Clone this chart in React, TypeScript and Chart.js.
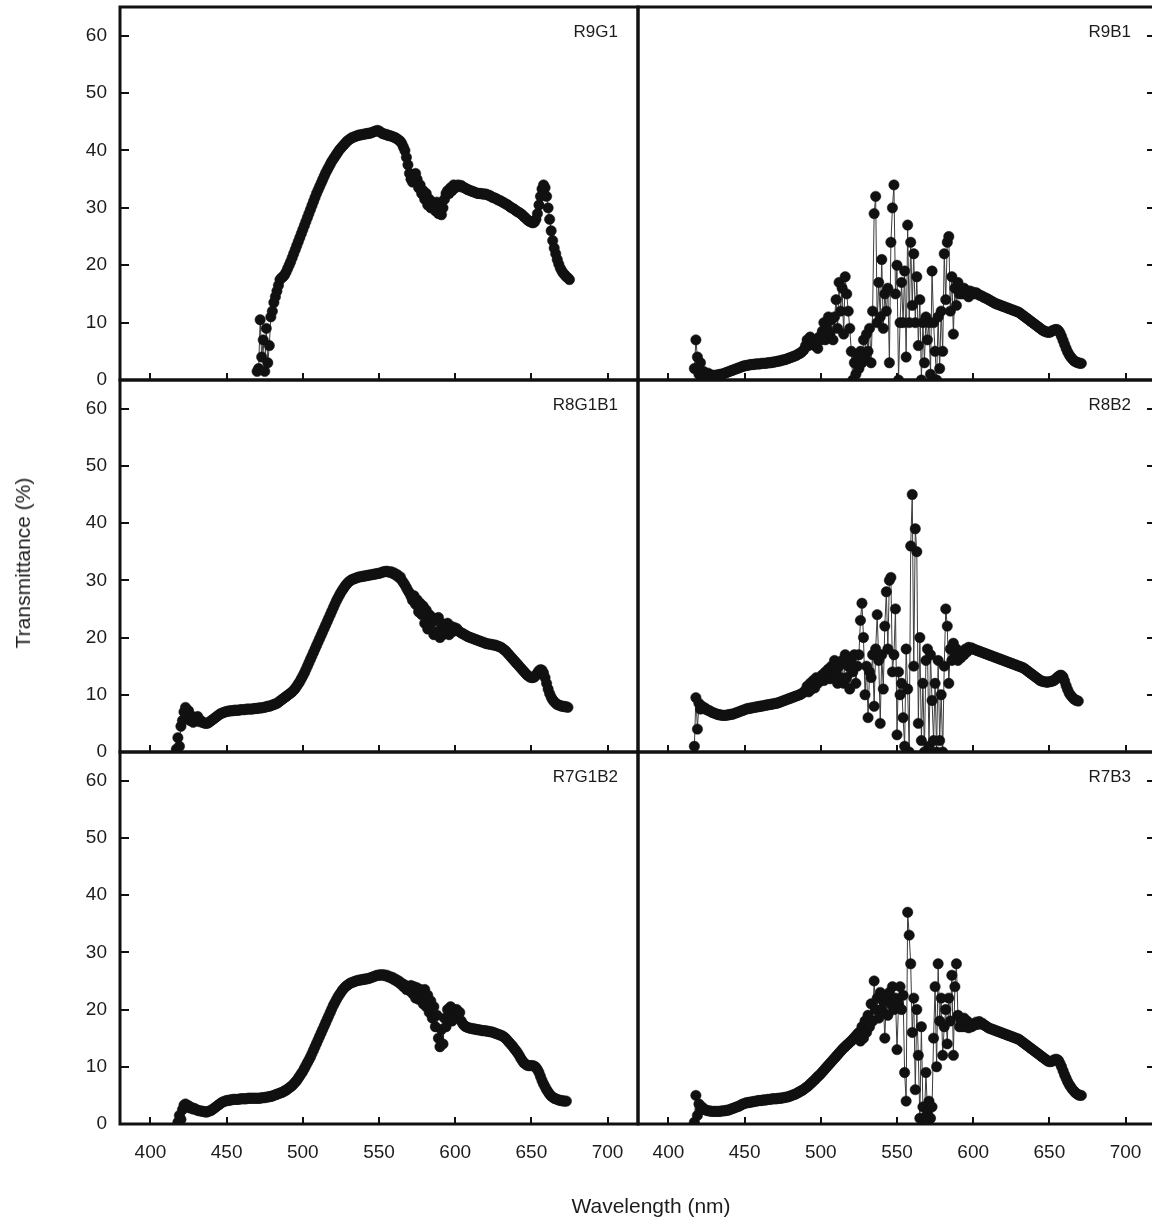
import React, { useEffect, useRef } from 'react';
import { Chart, registerables } from 'chart.js';

Chart.register(...registerables);

// ---------- data ----------
const wavelengthTicks = [400, 450, 500, 550, 600, 650, 700];
const transmittanceTicks = [0, 10, 20, 30, 40, 50, 60];
const xTitle = 'Wavelength (nm)';
const yTitle = 'Transmittance (%)';

// Sampled every 1 nm starting at the given wavelength
const r9g1Start = 470;
const r9g1Values = [
  1.5, 2, 10.5, 4, 7, 1.5, 9, 3, 6, 11,
  12, 13.5, 14.5, 15.5, 16.5, 17.5, 17.8, 18, 18.3, 18.8,
  19.4, 20, 20.6, 21.3, 22, 22.7, 23.4, 24.1, 24.8, 25.5,
  26.2, 26.9, 27.6, 28.3, 29, 29.7, 30.4, 31.1, 31.8, 32.5,
  33.1, 33.7, 34.3, 34.9, 35.5, 36.1, 36.6, 37.1, 37.6, 38.1,
  38.5, 38.9, 39.3, 39.7, 40.1, 40.4, 40.7, 41, 41.3, 41.6,
  41.8, 42, 42.2, 42.3, 42.4, 42.5, 42.6, 42.7, 42.7, 42.8,
  42.8, 42.9, 42.9, 43, 43, 43.1, 43.2, 43.3, 43.4, 43.5,
  43.4, 43.2, 43, 42.9, 42.8, 42.8, 42.6, 42.6, 42.5, 42.4,
  42.3, 42.2, 42, 41.8, 41.6, 41.2, 40.6, 40, 38.8, 37.5,
  36, 35, 34.5, 35.5, 36, 35, 33.5, 34, 32.5, 33,
  31.5, 32.5, 30.5, 31.5, 30, 31, 30.5, 29.5, 31, 29,
  30.5, 28.8, 30, 31.5, 32.5, 33, 32.5, 33.5, 33, 34,
  33.5, 33.8, 34, 33.7, 33.9, 33.6, 33.5, 33.4, 33.2, 33.1,
  33, 32.9, 32.8, 32.7, 32.6, 32.5, 32.5, 32.5, 32.4, 32.4,
  32.4, 32.3, 32.2, 32.1, 31.9, 31.8, 31.7, 31.6, 31.4, 31.3,
  31.2, 31, 30.9, 30.7, 30.6, 30.4, 30.2, 30, 29.9, 29.7,
  29.5, 29.3, 29.2, 29, 28.8, 28.5, 28.3, 28, 27.8, 27.6,
  27.5, 27.4, 27.5, 28, 29, 30.5, 32, 33.3, 34, 33.5,
  32, 30, 28, 26, 24.3, 23, 22, 21, 20.2, 19.5,
  19, 18.6, 18.3, 18, 17.8, 17.5,
];

const r8g1b1Start = 417;
const r8g1b1Values = [
  0.5, 2.5, 1,
  4.5, 5.5, 7, 7.8, 6.5, 7.2, 5.5, 6.3, 5.2, 6,
  5.5, 6.2, 5.3, 5.5, 5.2, 5.1, 5, 5, 5.1, 5.3,
  5.5, 5.7, 5.9, 6.1, 6.3, 6.5, 6.7, 6.8, 6.9, 7,
  7.1, 7.1, 7.2, 7.2, 7.2, 7.3, 7.3, 7.3, 7.3, 7.4,
  7.4, 7.4, 7.4, 7.5, 7.5, 7.5, 7.5, 7.5, 7.6, 7.6,
  7.6, 7.7, 7.7, 7.7, 7.8, 7.8, 7.9, 8, 8, 8.1,
  8.2, 8.3, 8.4, 8.5, 8.7, 8.9, 9.1, 9.3, 9.5, 9.7,
  9.9, 10.1, 10.3, 10.5, 10.8, 11.1, 11.5, 11.9, 12.3, 12.8,
  13.3, 13.8, 14.4, 15, 15.6, 16.2, 16.8, 17.4, 18, 18.6,
  19.2, 19.8, 20.4, 21, 21.6, 22.2, 22.8, 23.4, 24, 24.6,
  25.2, 25.8, 26.4, 26.9, 27.4, 27.9, 28.3, 28.7, 29.1, 29.4,
  29.7, 29.9, 30.1, 30.2, 30.3, 30.4, 30.5, 30.6, 30.6, 30.7,
  30.7, 30.8, 30.8, 30.9, 30.9, 31, 31, 31.1, 31.1, 31.2,
  31.2, 31.3, 31.4, 31.5, 31.5, 31.6, 31.5, 31.4, 31.5, 31.2,
  31.3, 30.9, 31, 30.5, 30.6, 30, 29.6, 29.2, 28.7, 28.2,
  27.8, 27.2, 26.5, 27.3, 25.8, 26.6, 24.5, 26, 24, 25.5,
  22.5, 24.8, 21.5, 24, 22.5, 23.5, 20.5, 23, 21, 23.5,
  20, 22.5, 20.5, 22, 21, 22.5, 20.5, 22, 21, 21.8,
  21.2, 21.6, 21.2, 21, 20.8, 20.7, 20.5, 20.4, 20.2, 20.1,
  20, 19.9, 19.8, 19.7, 19.6, 19.5, 19.4, 19.3, 19.2, 19.1,
  19, 18.9, 18.9, 18.8, 18.8, 18.7, 18.7, 18.6, 18.5, 18.4,
  18.3, 18.1, 17.9, 17.7, 17.4, 17.1, 16.8, 16.5, 16.2, 15.9,
  15.6, 15.3, 15, 14.7, 14.4, 14.1, 13.8, 13.5, 13.3, 13.1,
  13, 13, 13.1, 13.4, 13.8, 14.2, 14.4, 14.3, 13.8, 13,
  12, 11, 10.2, 9.6, 9.1, 8.8, 8.5, 8.3, 8.2, 8.1,
  8, 8, 7.9, 7.9, 7.8,
];

const r7g1b2Start = 418;
const r7g1b2Values = [
  0.3, 1.5,
  0.8, 2.5, 3.3, 3.5, 3, 3.2, 2.8, 2.9, 2.6, 2.7,
  2.5, 2.4, 2.3, 2.3, 2.2, 2.2, 2.1, 2.1, 2.2, 2.3,
  2.4, 2.6, 2.8, 3, 3.2, 3.4, 3.6, 3.8, 3.9, 4,
  4.1, 4.1, 4.2, 4.2, 4.3, 4.3, 4.3, 4.3, 4.3, 4.4,
  4.4, 4.4, 4.4, 4.4, 4.5, 4.5, 4.5, 4.5, 4.5, 4.5,
  4.5, 4.5, 4.5, 4.6, 4.6, 4.6, 4.7, 4.7, 4.8, 4.8,
  4.9, 5, 5.1, 5.2, 5.3, 5.4, 5.5, 5.6, 5.8, 5.9,
  6.1, 6.3, 6.5, 6.7, 7, 7.3, 7.6, 8, 8.4, 8.8,
  9.2, 9.7, 10.2, 10.7, 11.2, 11.7, 12.3, 12.9, 13.5, 14.1,
  14.7, 15.3, 15.9, 16.5, 17.1, 17.7, 18.3, 18.9, 19.5, 20.1,
  20.7, 21.2, 21.7, 22.2, 22.6, 23, 23.4, 23.7, 24, 24.2,
  24.4, 24.6, 24.7, 24.8, 24.9, 25, 25.1, 25.1, 25.2, 25.2,
  25.3, 25.3, 25.4, 25.4, 25.5, 25.6, 25.7, 25.8, 25.9, 26,
  26, 26.1, 26, 26.1, 25.9, 26, 25.7, 25.8, 25.5, 25.6,
  25.2, 25.3, 24.9, 25, 24.5, 24.6, 24, 24.3, 23.5, 24,
  23.3, 24.2, 22.8, 24, 22, 23.8, 21.8, 23.5, 22.5, 21,
  23.5, 20.5, 22.5, 19.5, 21.5, 18.5, 20.5, 17, 19, 15,
  13.5, 16.5, 14, 18.5, 17, 20, 18.5, 20.5, 18, 20,
  19, 20, 18.8, 19.5, 18, 17.5, 17.2, 17, 16.9, 16.8,
  16.7, 16.7, 16.6, 16.6, 16.5, 16.5, 16.4, 16.4, 16.3, 16.3,
  16.3, 16.2, 16.2, 16.1, 16.1, 16, 15.9, 15.8, 15.7, 15.6,
  15.5, 15.4, 15.2, 15, 14.7, 14.4, 14.1, 13.8, 13.5, 13.1,
  12.8, 12.4, 12, 11.5, 11.1, 10.7, 10.5, 10.3, 10.2, 10.2,
  10.2, 10.2, 10.1, 9.9, 9.5, 9, 8.3, 7.6, 7, 6.5,
  6, 5.6, 5.2, 4.9, 4.7, 4.5, 4.4, 4.3, 4.2, 4.1,
  4.1, 4, 4, 4,
];

const r9b1Start = 417;
const r9b1Values = [
  2, 7, 4,
  1, 3, 0.5, 1.5, 1, 0.8, 1.2, 0.8, 0.9, 0.8,
  0.8, 0.8, 0.9, 0.9, 1, 1, 1.1, 1.2, 1.3, 1.4,
  1.5, 1.6, 1.7, 1.8, 1.9, 2, 2.1, 2.2, 2.3, 2.4,
  2.5, 2.5, 2.6, 2.6, 2.7, 2.7, 2.7, 2.8, 2.8, 2.8,
  2.8, 2.9, 2.9, 2.9, 2.9, 3, 3, 3, 3.1, 3.1,
  3.2, 3.2, 3.3, 3.3, 3.4, 3.5, 3.5, 3.6, 3.7, 3.8,
  3.9, 4, 4.1, 4.2, 4.3, 4.5, 4.6, 4.8, 5, 5.3,
  6, 7, 6, 7.5, 6.5, 7, 6, 6.8, 5.5, 7.5,
  7, 8.5, 10, 7, 9, 11, 8, 10.5, 7, 11,
  14, 9, 17, 12, 16, 8, 18, 15, 12, 9,
  5, 0, 3, 1, 4, 2, 5, 3, 7, 4,
  8, 5, 9, 3, 12, 29, 32, 10, 17, 11,
  21, 9, 15, 12, 16, 3, 24, 30, 34, 15,
  20, 0, 10, 17, 10, 19, 4, 27, 10, 24,
  13, 22, 10, 18, 6, 14, 0, 10, 3, 11,
  7, 10, 1, 19, 10, 5, 0, 11, 2, 12,
  5, 22, 14, 24, 25, 12, 18, 8, 16, 13,
  17, 15, 15.5, 15, 16, 15, 15.5, 14.5, 15.5, 15,
  15.3, 15, 15.2, 15, 14.8, 14.7, 14.6, 14.4, 14.3, 14.2,
  14, 13.9, 13.7, 13.6, 13.4, 13.3, 13.2, 13.1, 13, 12.9,
  12.8, 12.7, 12.6, 12.5, 12.4, 12.3, 12.2, 12.1, 12, 11.9,
  11.8, 11.6, 11.4, 11.2, 11, 10.8, 10.6, 10.4, 10.2, 10,
  9.8, 9.6, 9.4, 9.2, 9, 8.8, 8.6, 8.5, 8.4, 8.3,
  8.3, 8.4, 8.6, 8.7, 8.8, 8.8, 8.6, 8.2, 7.6, 6.9,
  6.2, 5.5, 4.9, 4.4, 4, 3.7, 3.4, 3.2, 3.1, 3,
  2.9, 2.9,
];

const r8b2Start = 417;
const r8b2Values = [
  1, 9.5, 4,
  8.5, 7.5, 8, 7.6, 7.7, 7.4, 7.3, 7.2, 7, 6.9,
  6.8, 6.7, 6.6, 6.5, 6.5, 6.4, 6.4, 6.4, 6.4, 6.5,
  6.5, 6.6, 6.6, 6.7, 6.8, 6.9, 7, 7.1, 7.2, 7.3,
  7.4, 7.5, 7.6, 7.6, 7.7, 7.7, 7.8, 7.8, 7.9, 7.9,
  8, 8, 8.1, 8.1, 8.2, 8.2, 8.3, 8.3, 8.4, 8.4,
  8.5, 8.5, 8.6, 8.7, 8.8, 8.9, 9, 9.1, 9.2, 9.3,
  9.4, 9.5, 9.6, 9.7, 9.8, 9.9, 10, 10.1, 10.3, 10.5,
  10.8, 11.5, 10.5, 12, 11, 12.5, 11.2, 13, 12, 12.8,
  12.5, 13.5, 12.5, 14, 13, 14.5, 12.8, 15, 13.5, 16,
  14, 12, 15, 13, 16, 12, 17, 13, 15, 11,
  16, 14, 17, 12, 15, 17, 23, 26, 20, 10,
  15, 6, 14, 13, 17, 8, 18, 24, 16, 5,
  17, 11, 22, 28, 18, 30, 30.5, 14, 17, 25,
  3, 14, 10, 12, 6, 1, 18, 11, 0, 36,
  45, 15, 39, 35, 5, 20, 2, 12, 0, 16,
  18, 1, 17, 9, 2, 12, 0, 16, 2, 10,
  0, 15, 25, 22, 12, 18, 16, 19, 17, 18,
  16, 17, 16.5, 17.5, 17, 18, 17.5, 18.3, 18, 18.2,
  18, 17.9, 17.8, 17.7, 17.6, 17.5, 17.4, 17.3, 17.2, 17.1,
  17, 16.9, 16.8, 16.7, 16.6, 16.5, 16.4, 16.3, 16.2, 16.1,
  16, 15.9, 15.8, 15.7, 15.6, 15.5, 15.4, 15.3, 15.2, 15.1,
  15, 14.9, 14.8, 14.7, 14.5, 14.3, 14.1, 13.9, 13.7, 13.5,
  13.3, 13.1, 12.9, 12.7, 12.5, 12.4, 12.3, 12.3, 12.2, 12.2,
  12.3, 12.3, 12.4, 12.5, 12.7, 13, 13.2, 13.4, 13.4, 13.1,
  12.4, 11.6, 10.9, 10.3, 9.9, 9.6, 9.3, 9.1, 9, 8.9,
];

const r7b3Start = 417;
const r7b3Values = [
  0.3, 5, 1.5,
  3.5, 2.5, 3, 2.6, 2.5, 2.4, 2.3, 2.3, 2.2, 2.2,
  2.2, 2.2, 2.2, 2.2, 2.2, 2.3, 2.3, 2.3, 2.4, 2.4,
  2.5, 2.6, 2.7, 2.8, 2.9, 3, 3.1, 3.2, 3.4, 3.5,
  3.6, 3.7, 3.7, 3.8, 3.8, 3.9, 3.9, 4, 4, 4.1,
  4.1, 4.1, 4.2, 4.2, 4.2, 4.3, 4.3, 4.3, 4.4, 4.4,
  4.4, 4.4, 4.5, 4.5, 4.5, 4.6, 4.6, 4.7, 4.7, 4.8,
  4.9, 5, 5.1, 5.2, 5.3, 5.5, 5.6, 5.8, 5.9, 6.1,
  6.3, 6.5, 6.7, 7, 7.2, 7.5, 7.7, 8, 8.3, 8.5,
  8.8, 9.1, 9.4, 9.7, 10, 10.3, 10.6, 10.9, 11.2, 11.5,
  11.8, 12.1, 12.4, 12.7, 13, 13.3, 13.5, 13.8, 14, 14.3,
  14.5, 14.8, 15.1, 15.4, 15.7, 16, 14.5, 17, 15, 18,
  16, 19, 17, 21, 18, 25, 20, 22, 18.5, 23,
  20, 21.5, 15, 22, 19, 23, 21, 24, 20, 22,
  13, 21, 24, 20, 22.5, 9, 4, 37, 33, 28,
  16, 22, 6, 20, 12, 1, 17, 3, 1, 9,
  2, 4, 1, 3, 15, 24, 10, 28, 18, 22,
  12, 17, 20, 14, 22, 18, 26, 12, 24, 28,
  19, 17, 18, 17, 18.5, 17, 18, 16.8, 17.5, 17,
  17.5, 17.3, 17.8, 17.4, 17.9, 17.5, 17.6, 17.3, 17.2, 17,
  16.8, 16.7, 16.6, 16.5, 16.4, 16.3, 16.2, 16.1, 16, 15.9,
  15.8, 15.7, 15.6, 15.5, 15.4, 15.3, 15.2, 15.1, 15, 14.9,
  14.8, 14.6, 14.4, 14.2, 14, 13.8, 13.6, 13.4, 13.2, 13,
  12.8, 12.6, 12.4, 12.2, 12, 11.8, 11.6, 11.4, 11.2, 11,
  10.9, 10.9, 11, 11.2, 11.3, 11.3, 11.1, 10.6, 10, 9.3,
  8.6, 8, 7.4, 6.9, 6.5, 6.1, 5.8, 5.5, 5.3, 5.1,
  5, 5,
];

const panelNames = ['R9G1', 'R9B1', 'R8G1B1', 'R8B2', 'R7G1B2', 'R7B3'];
const panelStarts = [r9g1Start, r9b1Start, r8g1b1Start, r8b2Start, r7g1b2Start, r7b3Start];
const panelValues = [r9g1Values, r9b1Values, r8g1b1Values, r8b2Values, r7g1b2Values, r7b3Values];

// ---------- layout / style ----------
const COLS = [{ left: 120, width: 518 }, { left: 638, width: 518 }];
const ROWS = [{ top: 7, height: 373 }, { top: 380, height: 372 }, { top: 752, height: 372 }];
const MARGIN = { l: 130, t: 40, r: 40, b: 100 };
const Y_AXIS_W = 120;
const X_AXIS_H = 60;
const FONT = 'Liberation Sans, Arial, Helvetica, sans-serif';
const INK = '#111111';
const TEXT = '#1c1c1c';

const framePlugin = {
  id: 'panelFrame',
  afterDraw(chart: any, _args: any, opts: any) {
    const { ctx, chartArea } = chart;
    const { left, right, top, bottom } = chartArea;
    const xs = chart.scales.x;
    const ys = chart.scales.y;
    ctx.save();
    ctx.strokeStyle = INK;
    ctx.lineCap = 'butt';
    ctx.lineWidth = 2;
    xs.ticks.forEach((t: any) => {
      const px = Math.round(xs.getPixelForValue(t.value));
      ctx.beginPath();
      ctx.moveTo(px, bottom);
      ctx.lineTo(px, bottom - 7);
      ctx.stroke();
    });
    ys.ticks.forEach((t: any) => {
      const py = Math.round(ys.getPixelForValue(t.value));
      if (t.value === 0) return;
      ctx.beginPath();
      if (opts.side === 'left') {
        ctx.moveTo(left, py);
        ctx.lineTo(left + 9, py);
      } else {
        ctx.moveTo(right, py);
        ctx.lineTo(right - 9, py);
      }
      ctx.stroke();
    });
    ctx.lineWidth = 3;
    ctx.strokeRect(left, top, right - left, bottom - top);
    ctx.restore();
  },
};

type PanelProps = { index: number };

function Panel({ index }: PanelProps) {
  const ref = useRef<HTMLCanvasElement | null>(null);
  const row = Math.floor(index / 2);
  const col = index % 2;
  const isLeft = col === 0;
  const isBottom = row === 2;
  const cw = COLS[col].width + MARGIN.l + MARGIN.r;
  const ch = ROWS[row].height + MARGIN.t + MARGIN.b;

  useEffect(() => {
    if (!ref.current) return;
    const start = panelStarts[index];
    const points = panelValues[index].map((v, i) => ({ x: start + i, y: v }));
    const chart = new Chart(ref.current, {
      type: 'line',
      data: {
        datasets: [
          {
            data: points,
            borderColor: '#3c3c3c',
            borderWidth: 1,
            pointRadius: 5.2,
            pointBackgroundColor: INK,
            pointBorderColor: INK,
            pointBorderWidth: 0.5,
            tension: 0,
            fill: false,
          },
        ],
      },
      options: {
        responsive: false,
        animation: false,
        events: [],
        layout: {
          padding: {
            left: isLeft ? MARGIN.l - Y_AXIS_W : MARGIN.l,
            top: MARGIN.t,
            right: MARGIN.r,
            bottom: isBottom ? MARGIN.b - X_AXIS_H : MARGIN.b,
          },
        },
        plugins: {
          legend: { display: false },
          tooltip: { enabled: false },
          title: { display: false },
          panelFrame: { side: isLeft ? 'left' : 'right' },
        } as any,
        scales: {
          x: {
            type: 'linear',
            min: 380,
            max: 720,
            display: isBottom,
            grid: { display: false, drawTicks: false },
            border: { display: false },
            afterBuildTicks: (s: any) => {
              s.ticks = wavelengthTicks.map((v) => ({ value: v }));
            },
            afterFit: (s: any) => {
              if (isBottom) s.height = X_AXIS_H;
            },
            ticks: {
              padding: 17,
              autoSkip: false,
              maxRotation: 0,
              color: TEXT,
              font: { family: FONT, size: 19 },
            },
          },
          y: {
            type: 'linear',
            min: 0,
            max: 65,
            display: isLeft,
            grid: { display: false, drawTicks: false },
            border: { display: false },
            afterBuildTicks: (s: any) => {
              s.ticks = transmittanceTicks.map((v) => ({ value: v }));
            },
            afterFit: (s: any) => {
              if (isLeft) s.width = Y_AXIS_W;
            },
            ticks: {
              padding: 13,
              autoSkip: false,
              color: TEXT,
              font: { family: FONT, size: 19 },
            },
          },
        },
      } as any,
      plugins: [framePlugin],
    });
    return () => chart.destroy();
  }, [index]);

  return (
    <canvas
      ref={ref}
      width={cw}
      height={ch}
      style={{
        position: 'absolute',
        left: COLS[col].left - MARGIN.l,
        top: ROWS[row].top - MARGIN.t,
        width: cw,
        height: ch,
      }}
    />
  );
}

export default function App() {
  return (
    <div
      style={{
        position: 'absolute',
        left: 0,
        top: 0,
        width: 1152,
        height: 1221,
        overflow: 'hidden',
        background: '#ffffff',
        fontFamily: FONT,
      }}
    >
      {panelNames.map((_, i) => (
        <Panel key={i} index={i} />
      ))}
      {panelNames.map((name, i) => {
        const row = Math.floor(i / 2);
        const col = i % 2;
        const inset = col === 0 ? 20 : 25;
        const rightEdge = COLS[col].left + COLS[col].width - inset;
        return (
          <div
            key={'lbl' + i}
            style={{
              position: 'absolute',
              right: 1152 - rightEdge,
              top: ROWS[row].top + 16,
              fontSize: 17,
              lineHeight: '17px',
              color: TEXT,
              whiteSpace: 'nowrap',
              zIndex: 2,
            }}
          >
            {name}
          </div>
        );
      })}
      <div
        style={{
          position: 'absolute',
          left: 23,
          top: 563,
          transform: 'translate(-50%, -50%) rotate(-90deg)',
          fontSize: 21,
          color: TEXT,
          whiteSpace: 'nowrap',
          zIndex: 2,
        }}
      >
        {yTitle}
      </div>
      <div
        style={{
          position: 'absolute',
          left: 651,
          top: 1206,
          transform: 'translate(-50%, -50%)',
          fontSize: 21,
          color: TEXT,
          whiteSpace: 'nowrap',
          zIndex: 2,
        }}
      >
        {xTitle}
      </div>
    </div>
  );
}
